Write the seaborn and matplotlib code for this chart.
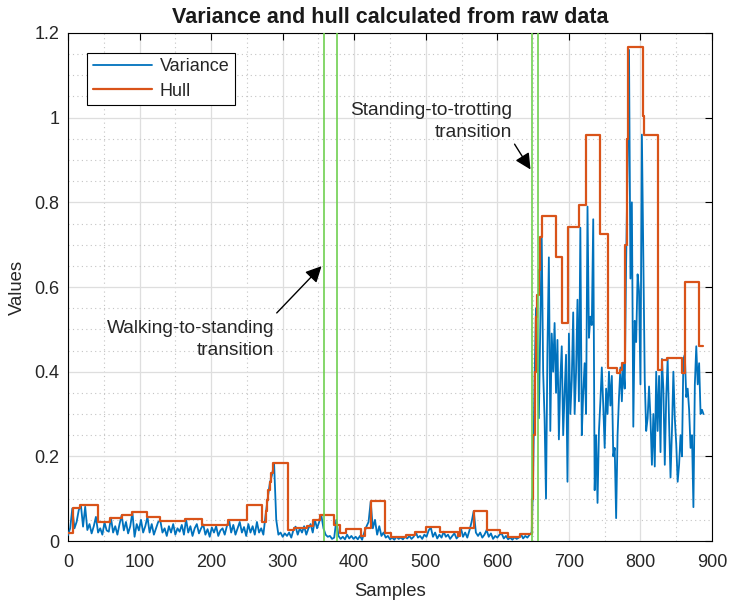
import numpy as np
import pandas as pd
import matplotlib
matplotlib.use("Agg")
import matplotlib.pyplot as plt
import seaborn as sns
from matplotlib.ticker import MultipleLocator, FuncFormatter

# variance before trotting, every 3rd sample (0 .. 645)
var_low = [
    0.014, 0.030, 0.077, 0.030, 0.045, 0.073, 0.085, 0.034, 0.081, 0.026,
    0.040, 0.018, 0.035, 0.057, 0.020, 0.030, 0.015, 0.044, 0.025, 0.022,
    0.055, 0.020, 0.035, 0.015, 0.040, 0.061, 0.025, 0.045, 0.018, 0.035,
    0.068, 0.010, 0.040, 0.025, 0.050, 0.020, 0.035, 0.057, 0.020, 0.040,
    0.015, 0.030, 0.045, 0.048, 0.020, 0.030, 0.012, 0.035, 0.020, 0.040,
    0.015, 0.030, 0.022, 0.038, 0.015, 0.051, 0.020, 0.035, 0.012, 0.030,
    0.040, 0.018, 0.030, 0.039, 0.015, 0.028, 0.010, 0.032, 0.020, 0.035,
    0.012, 0.025, 0.030, 0.015, 0.035, 0.050, 0.020, 0.038, 0.015, 0.030,
    0.045, 0.020, 0.033, 0.012, 0.040, 0.020, 0.035, 0.015, 0.045, 0.020,
    0.030, 0.015, 0.060, 0.100, 0.136, 0.156, 0.183, 0.050, 0.015, 0.020,
    0.010, 0.018, 0.012, 0.020, 0.008, 0.026, 0.034, 0.015, 0.030, 0.020,
    0.035, 0.015, 0.030, 0.040, 0.020, 0.050, 0.030, 0.045, 0.061, 0.030,
    0.015, 0.010, 0.012, 0.005, 0.008, 0.050, 0.012, 0.005, 0.010, 0.004,
    0.015, 0.006, 0.012, 0.005, 0.010, 0.004, 0.012, 0.003, 0.020, 0.034,
    0.045, 0.093, 0.030, 0.050, 0.015, 0.035, 0.012, 0.020, 0.008, 0.012,
    0.004, 0.008, 0.003, 0.010, 0.005, 0.008, 0.004, 0.010, 0.006, 0.012,
    0.005, 0.010, 0.021, 0.008, 0.012, 0.005, 0.015, 0.010, 0.025, 0.032,
    0.010, 0.020, 0.006, 0.015, 0.008, 0.022, 0.010, 0.015, 0.005, 0.012,
    0.018, 0.006, 0.012, 0.031, 0.010, 0.020, 0.008, 0.025, 0.045, 0.071,
    0.020, 0.012, 0.020, 0.008, 0.015, 0.026, 0.010, 0.018, 0.005, 0.012,
    0.008, 0.015, 0.018, 0.006, 0.012, 0.004, 0.008, 0.003, 0.009, 0.005,
    0.008, 0.016, 0.006, 0.012, 0.008, 0.015,
]

# variance from the trotting part, every 2nd sample (648 .. 888)
var_high = [
    0.020, 0.150, 0.380, 0.550, 0.450, 0.290, 0.500, 0.720, 0.400, 0.290,
    0.100, 0.450, 0.670, 0.260, 0.490, 0.400, 0.515, 0.350, 0.475, 0.240,
    0.380, 0.460, 0.250, 0.350, 0.440, 0.140, 0.490, 0.300, 0.380, 0.540,
    0.300, 0.400, 0.570, 0.330, 0.740, 0.250, 0.350, 0.420, 0.300, 0.790,
    0.480, 0.530, 0.510, 0.760, 0.120, 0.250, 0.090, 0.260, 0.330, 0.410,
    0.320, 0.220, 0.360, 0.300, 0.400, 0.320, 0.390, 0.200, 0.220, 0.054,
    0.250, 0.340, 0.410, 0.330, 0.420, 0.360, 0.660, 0.890, 1.160, 0.620,
    0.800, 0.270, 0.520, 0.470, 0.630, 0.590, 0.370, 0.960, 0.670, 0.380,
    0.260, 0.290, 0.365, 0.290, 0.180, 0.300, 0.176, 0.400, 0.260, 0.390,
    0.210, 0.430, 0.360, 0.180, 0.340, 0.430, 0.280, 0.150, 0.260, 0.400,
    0.290, 0.230, 0.140, 0.180, 0.250, 0.200, 0.430, 0.440, 0.340, 0.360,
    0.310, 0.220, 0.250, 0.080, 0.370, 0.460, 0.370, 0.420, 0.300, 0.310,
    0.300,
]

# hull: sample where each step starts and its value
hull_x = [0, 6.5, 17, 42, 58, 75, 89, 111, 129, 163.5, 187, 224, 250.5, 270.7,
          276, 278, 280, 282, 284, 286, 307, 316, 333.5, 343, 352, 372, 380,
          389, 410, 415, 423, 443, 452, 473, 485, 500, 520, 545, 548, 566.7,
          585, 604, 615, 632, 648, 650, 652, 654, 656, 658, 660, 663, 682, 691,
          699, 714.5, 724, 743.4, 755, 766.7, 771, 773.6, 778.3, 780.5, 783,
          803, 805, 824.5, 829.6, 836.6, 857.5, 862, 882.2, 887]
hull_y = [0.018, 0.077, 0.085, 0.044, 0.055, 0.061, 0.068, 0.057, 0.048, 0.051,
          0.039, 0.050, 0.085, 0.044, 0.070, 0.097, 0.120, 0.140, 0.160, 0.185,
          0.026, 0.030, 0.036, 0.050, 0.061, 0.038, 0.018, 0.028, 0.011, 0.030,
          0.095, 0.018, 0.010, 0.015, 0.021, 0.032, 0.022, 0.012, 0.031, 0.071,
          0.026, 0.018, 0.009, 0.016, 0.100, 0.250, 0.400, 0.530, 0.580, 0.640,
          0.719, 0.768, 0.672, 0.514, 0.742, 0.794, 0.959, 0.725, 0.408, 0.396,
          0.404, 0.420, 0.700, 0.950, 1.167, 1.004, 0.959, 0.404, 0.428, 0.433,
          0.396, 0.612, 0.461, 0.461]

# transition markers (green vertical lines)
transitions = [357.7, 375.5, 648, 657]

sns.set_theme(style="whitegrid")
plt.rcParams['font.family'] = ['Liberation Sans', 'DejaVu Sans']

fig = plt.figure(figsize=(7.29, 6.02), dpi=100)
ax = fig.add_axes([0.0933, 0.1013, 0.8834, 0.8439])
ax.set_facecolor('white')

samples = np.concatenate([np.arange(len(var_low)) * 3, 648 + np.arange(len(var_high)) * 2])
var_df = pd.DataFrame({'sample': samples, 'value': np.array(var_low + var_high)})
hull_df = pd.DataFrame({'sample': hull_x, 'value': hull_y})

sns.lineplot(data=var_df, x='sample', y='value', color='#0072BD', lw=1.3,
             label='Variance', ax=ax, zorder=3)
sns.lineplot(data=hull_df, x='sample', y='value', color='#D95319', lw=1.6,
             drawstyle='steps-post', label='Hull', ax=ax, zorder=4)
for t in transitions:
    ax.axvline(t, color='#6fd050', lw=1.2, zorder=5)

ax.set_xlim(0, 900)
ax.set_ylim(0, 1.2)
ax.xaxis.set_major_locator(MultipleLocator(100))
ax.xaxis.set_minor_locator(MultipleLocator(50))
ax.yaxis.set_major_locator(MultipleLocator(0.2))
ax.yaxis.set_minor_locator(MultipleLocator(0.05))
ax.yaxis.set_major_formatter(FuncFormatter(lambda v, p: f'{v:g}'))
ax.grid(which='major', color='#dedede', lw=0.9, ls='-')
ax.grid(which='minor', color='#c4c4c4', lw=0.8, ls=(0, (1, 3)))
ax.set_axisbelow(True)
ax.tick_params(axis='x', which='major', pad=9)
ax.tick_params(axis='y', which='major', pad=6)
ax.tick_params(which='major', direction='in', length=5, width=0.8, color='black',
               top=True, right=True, labelsize=13, labelcolor='#262626')
ax.tick_params(which='minor', length=0)
for s in ax.spines.values():
    s.set_visible(True)
    s.set_color('black')
    s.set_linewidth(0.8)

ax.set_xlabel('Samples', fontsize=13.3, labelpad=9, color='#262626')
ax.set_ylabel('Values', fontsize=13.3, labelpad=6, color='#262626')
ax.set_title('Variance and hull calculated from raw data', fontsize=15.5,
             fontweight='bold', pad=7, color='#1a1a1a')

leg = ax.legend(loc='upper left', bbox_to_anchor=(0.03, 0.9606), borderaxespad=0,
                fontsize=13, handlelength=3.3, handletextpad=0.4, fancybox=False,
                framealpha=1, edgecolor='black', borderpad=0.3, labelspacing=0.4)
leg.get_frame().set_linewidth(0.8)

# annotations
ax.text(288, 0.522, 'Walking-to-standing\ntransition', ha='right', va='top',
        multialignment='right', fontsize=13.8, color='#262626', linespacing=1.35)
ax.annotate('', xy=(357, 0.654), xytext=(289, 0.534),
            arrowprops=dict(arrowstyle='-|>', color='black', lw=1, mutation_scale=24))
ax.text(620.5, 1.036, 'Standing-to-trotting\ntransition', ha='right', va='top',
        multialignment='right', fontsize=13.8, color='#262626', linespacing=1.35)
ax.annotate('', xy=(648.4, 0.872), xytext=(622, 0.943),
            arrowprops=dict(arrowstyle='-|>', color='black', lw=1, mutation_scale=24))

fig.savefig('out.png', dpi=100)
